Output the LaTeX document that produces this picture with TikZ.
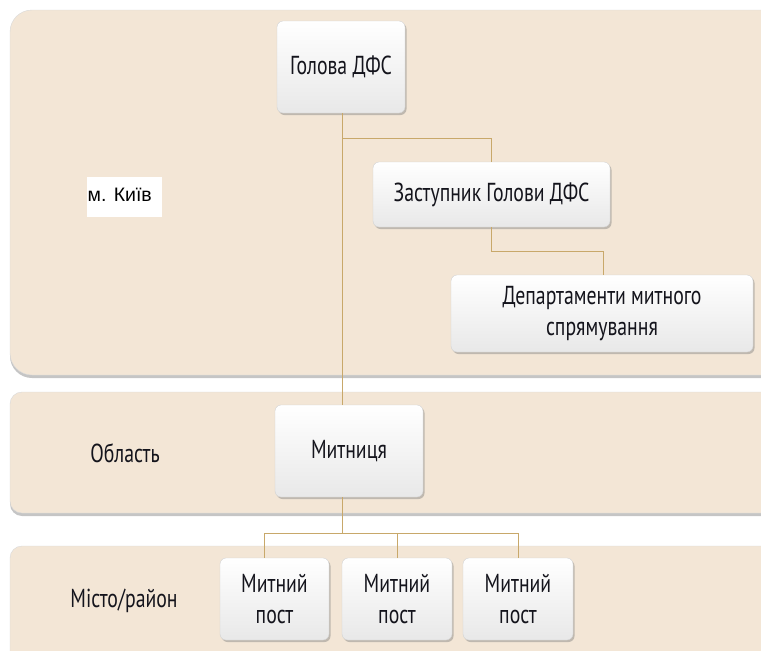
\documentclass[tikz,border=0pt]{standalone}
\usepackage{fontspec}
\usetikzlibrary{shadows}
\newfontfamily\condf[FakeStretch=0.76]{PT Sans}
\newfontfamily\arialf{Liberation Sans}
\definecolor{bandc}{HTML}{F3E6D6}
\definecolor{linec}{HTML}{C8A86A}
\definecolor{txtc}{HTML}{14141C}
\tikzset{
  band/.style={fill=bandc, draw=gray!30, line width=0.4pt, drop shadow={shadow xshift=0pt, shadow yshift=-3pt, opacity=0.45}},
  box/.style={rectangle, rounded corners=6pt, top color=white, bottom color=gray!18, draw=gray!35, line width=0.4pt,
    drop shadow={shadow xshift=1.5pt, shadow yshift=-2pt, opacity=0.45},
    font=\condf\fontsize{26}{31}\selectfont, text=txtc, align=center, inner sep=2pt},
  lbl/.style={font=\condf\fontsize{26}{31}\selectfont, text=txtc},
  conn/.style={draw=linec, line width=1pt}
}
\begin{document}
\begin{tikzpicture}[x=1pt,y=1pt]
\useasboundingbox (0,0) rectangle (761,-651);
\fill[white] (0,0) rectangle (761,-651);
% bands
\path[band, rounded corners=22pt] (790,-10) -- (10,-10) -- (10,-375) -- (790,-375) -- cycle;
\path[band, rounded corners=12pt] (790,-392) -- (10,-392) -- (10,-513) -- (790,-513) -- cycle;
\path[band, rounded corners=12pt] (790,-546) -- (10,-546) -- (10,-680) -- (790,-680) -- cycle;
% labels
\node[fill=white, minimum width=75pt, minimum height=40pt, inner sep=0pt] (kyivbg) at (124.5,-197) {};
\node[anchor=west, font=\arialf\fontsize{19.5}{22}\selectfont, inner sep=0pt] (kyiv) at (87.5,-195) {м. Київ};
\node[lbl] (oblast) at (125,-453) {Область};
\node[lbl] (misto) at (124,-601) {Місто/район};
% boxes
\node[box, minimum width=128pt, minimum height=92pt] (head) at (341,-67) {Голова ДФС};
\node[box, minimum width=237pt, minimum height=65pt] (deputy) at (491.5,-194.5) {Заступник Голови ДФС};
\node[box, minimum width=302pt, minimum height=77pt] (dept) at (602,-313.5) {Департаменти митного\\спрямування};
\node[box, minimum width=148pt, minimum height=92pt] (mytn) at (349,-451) {Митниця};
\node[box, minimum width=109pt, minimum height=82pt] (post1) at (274.5,-599) {Митний\\пост};
\node[box, minimum width=110pt, minimum height=82pt] (post2) at (397,-599) {Митний\\пост};
\node[box, minimum width=110pt, minimum height=82pt] (post3) at (518,-599) {Митний\\пост};
% connectors
\coordinate (top) at (342,-113);
\coordinate (bus) at (342,-533);
\draw[conn] (top) -- (top |- mytn.north);
\draw[conn] (top) -- ++(0,-25) -| (deputy.north);
\draw[conn] (deputy.south) -- ++(0,-24) -| ([xshift=1pt]dept.north);
\draw[conn] (bus |- mytn.south) -- (bus);
\draw[conn] (bus) -| ([xshift=-10.5pt]post1.north);
\draw[conn] (bus) -| (post2.north);
\draw[conn] (bus) -| (post3.north);
\end{tikzpicture}
\end{document}
